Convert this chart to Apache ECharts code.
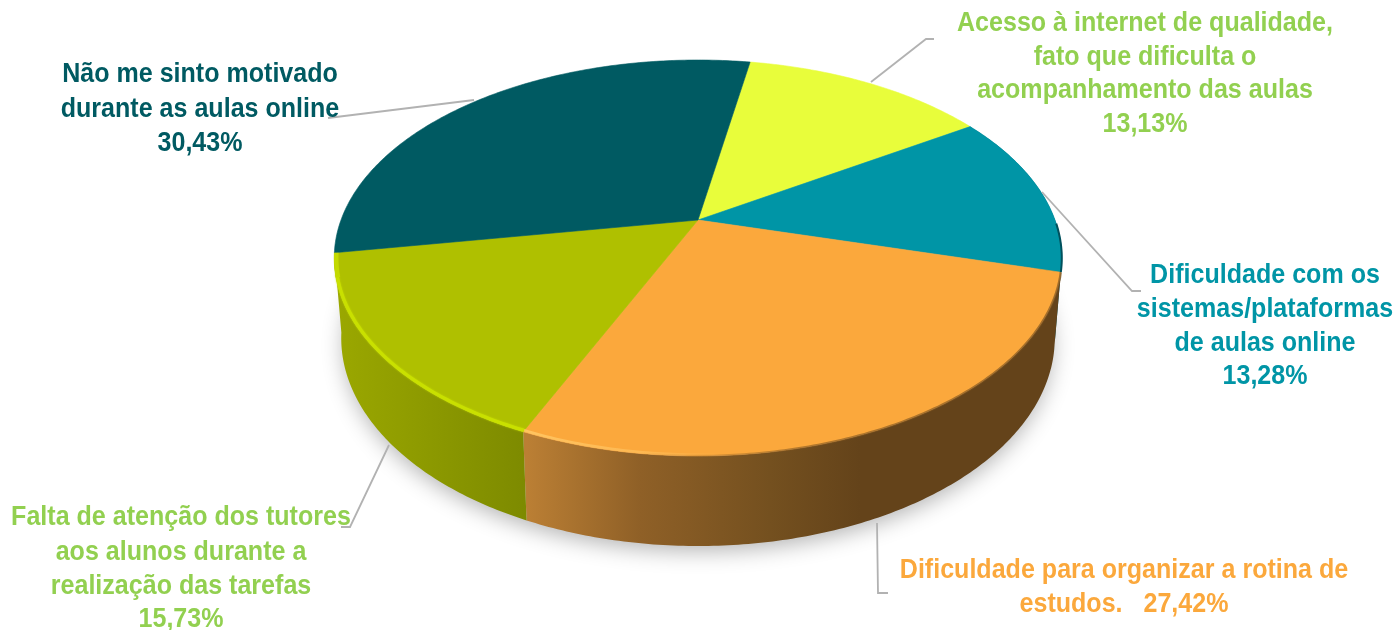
<!DOCTYPE html>
<html><head><meta charset="utf-8">
<style>html,body{margin:0;padding:0;background:#fff}#c{width:1397px;height:630px}</style>
<script src="https://cdn.jsdelivr.net/npm/echarts@6/dist/echarts.min.js"></script>
</head><body><div id="c"></div>
<script>
// ---- data ----
const categories = [
  ['Acesso à internet de qualidade,', 'fato que dificulta o', 'acompanhamento das aulas', '{v}'],
  ['Dificuldade com os', 'sistemas/plataformas', 'de aulas online', '{v}'],
  ['Dificuldade para organizar a rotina de', 'estudos.   {v}'],
  ['Falta de atenção dos tutores', 'aos alunos durante a', 'realização das tarefas', '{v}'],
  ['Não me sinto motivado', 'durante as aulas online', '{v}']
];
const values = [13.13, 13.28, 27.42, 15.73, 30.43];
const topColors = ['#e8fd3b', '#0095a6', '#fba83c', '#afc000', '#005a62'];
const textColors = ['#92d050', '#0095a6', '#fba83c', '#92d050', '#005a62'];
const firstAngle = 10;

// ---- layout (not data) ----
const apex = {x: 698, y: 220}, persp = {A: 357, B: 190.7, k: -0.192};
const topEll = {x: 698, y: 258, rx: 364, ry: 198};
const botEll = {x: 698, y: 338, rx: 357, ry: 208};
const labelLayout = [
  {x: 1145, ys: [23, 57, 90, 124]},
  {x: 1265, ys: [275, 309, 343, 376]},
  {x: 1124, ys: [570, 604]},
  {x: 181, ys: [517, 552, 586, 619]},
  {x: 200, ys: [74, 109, 143]}
];
const leaderLayout = [
  [[871, 82], [926, 39], [934, 39]],
  [[1042, 192], [1132, 291], [1141, 291]],
  [[877, 523], [878, 593], [888, 593]],
  [[389, 445], [350, 527], [341, 527]],
  [[474, 100], [328, 118]]
];
const wallFills = [
  null,
  [[1000, '#00606c'], [1060, '#00505c']],
  [[527, '#bb7f34'], [640, '#8f6027'], [770, '#74501f'], [860, '#64431a'], [1060, '#64431a']],
  [[340, '#9aa700'], [527, '#7d8a00']],
  null
];
const FONT_SIZE = 28, FONT_SCALE = 0.895;

// ---- geometry ----
const total = values.reduce((a, b) => a + b, 0);
let acc = firstAngle;
const slices = values.map((v, i) => {
  const s = acc, e = acc + v / total * 360;
  acc = e;
  return [s, e, i];
});
function rim(deg) {
  const a = deg * Math.PI / 180, u = Math.sin(a), v = -Math.cos(a), w = 1 + persp.k * v;
  return [apex.x + persp.A * u / w, apex.y + persp.B * v / w];
}
function bottom(p) {
  const c = (p[0] - topEll.x) / topEll.rx, s = (p[1] - topEll.y) / topEll.ry;
  return [botEll.x + botEll.rx * c, botEll.y + botEll.ry * s];
}
function arc(s, e, map) {
  const pts = [], n = Math.max(2, Math.ceil(Math.abs(e - s) * 1.5));
  for (let i = 0; i <= n; i++) {
    const p = rim(s + (e - s) * i / n);
    pts.push(map ? map(p) : p);
  }
  return pts;
}
function inset(d) {
  return p => {
    const dx = (p[0] - topEll.x) / topEll.rx, dy = (p[1] - topEll.y) / topEll.ry;
    return [topEll.x + dx * (topEll.rx - d), topEll.y + dy * (topEll.ry - d)];
  };
}
const G = (x0, x1, stops) => new echarts.graphic.LinearGradient(x0, 0, x1, 0,
  stops.map(s => ({offset: (s[0] - x0) / (x1 - x0), color: s[1]})), true);

function series(z, data, renderItem) {
  return {type: 'custom', coordinateSystem: 'none', silent: true, animation: false, clip: false,
          z, data, renderItem};
}
const rows = slices.map(s => ({value: s}));

const option = {
  backgroundColor: '#ffffff',
  animation: false,
  series: [
    // soft shadow on the floor
    series(1, [{value: [0]}], () => ({
      type: 'polygon',
      shape: {points: arc(0, 360, p => bottom(inset(3)(p)))},
      style: {fill: '#d6d6d6', shadowBlur: 22, shadowColor: 'rgba(0,0,0,0.30)', shadowOffsetY: 8}
    })),
    // side walls
    series(2, rows, (p, api) => {
      const s = api.value(0), e = api.value(1), i = api.value(2);
      if (!wallFills[i]) return {type: 'group', children: []};
      const t = arc(s, e), b = arc(e, s, q => bottom(q));
      const st = wallFills[i];
      return {type: 'polygon', shape: {points: t.concat(b)},
              style: {fill: G(st[0][0], st[st.length - 1][0], st)}};
    }),
    // top faces
    series(3, rows, (p, api) => {
      const s = api.value(0), e = api.value(1), i = api.value(2);
      return {type: 'polygon', shape: {points: [[apex.x, apex.y]].concat(arc(s, e))},
              style: {fill: topColors[i], stroke: topColors[i], lineWidth: 0.6}};
    }),
    // rim lights and soft rim shadows, driven by slice angles
    series(4, rows, (p, api) => {
      const s = api.value(0), e = api.value(1), i = api.value(2), kids = [];
      const line = (pts, stroke, w, blur) => kids.push({type: 'polyline', shape: {points: pts},
        style: {fill: 'none', stroke, lineWidth: w, shadowBlur: blur || 0, shadowColor: blur ? stroke : undefined}});
      if (i === 3) {
        line(arc(s, e - 6, inset(1.5)), '#c9e000', 3.2, 2);
        line(arc(e - 7, e, inset(2)), '#c3da00', 4.5);
      }
      if (i === 2) {
        line(arc(s, e, inset(1.5)), G(527, 720, [[527, 'rgba(255,196,96,1)'], [640, 'rgba(255,190,90,0.75)'], [720, 'rgba(255,190,90,0)']]), 2.6);
        line(arc(s, e), G(640, 1060, [[640, 'rgba(120,80,30,0)'], [800, 'rgba(120,80,30,0.55)'], [1060, 'rgba(120,80,30,0.65)']]), 2.4);
      }
      if (i === 1) line(arc(e - 14, e), '#00505c', 2);
      return {type: 'group', children: kids};
    }),
    // leader lines
    series(5, rows, (p, api) => ({
      type: 'polyline', shape: {points: leaderLayout[api.value(2)]},
      style: {fill: 'none', stroke: '#b2b2b2', lineWidth: 1.8}
    })),
    // labels
    series(6, rows, (p, api) => {
      const i = api.value(2), L = labelLayout[i];
      const pct = values[i].toFixed(2).replace('.', ',') + '%';
      return {type: 'group', children: categories[i].map((t, j) => ({
        type: 'text', x: L.x, y: L.ys[j], scaleX: FONT_SCALE,
        style: {text: t.replace('{v}', pct), align: 'center', verticalAlign: 'middle',
                font: 'bold ' + FONT_SIZE + 'px "Liberation Sans", Arial, sans-serif',
                fill: textColors[i]}
      }))};
    })
  ]
};
echarts.init(document.getElementById('c'), null, {renderer: 'canvas'}).setOption(option);
</script></body></html>
